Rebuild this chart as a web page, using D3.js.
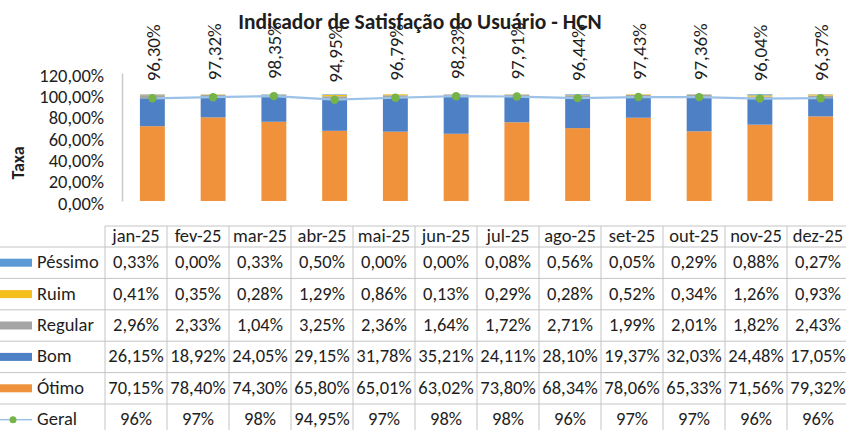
<!DOCTYPE html>
<html>
<head>
<meta charset="utf-8">
<script src="https://cdn.jsdelivr.net/npm/d3@7"></script>
<style>
  body { margin: 0; background: #fff; }
  svg { display: block; font-family: Carlito, Calibri, "Open Sans", sans-serif; }
</style>
</head>
<body>
<div class="chart-container"></div>
<script>
// values
const months = ['jan-25', 'fev-25', 'mar-25', 'abr-25', 'mai-25', 'jun-25', 'jul-25', 'ago-25', 'set-25', 'out-25', 'nov-25', 'dez-25'];
const pessimo = [0.33, 0.00, 0.33, 0.50, 0.00, 0.00, 0.08, 0.56, 0.05, 0.29, 0.88, 0.27];
const ruim = [0.41, 0.35, 0.28, 1.29, 0.86, 0.13, 0.29, 0.28, 0.52, 0.34, 1.26, 0.93];
const regular = [2.96, 2.33, 1.04, 3.25, 2.36, 1.64, 1.72, 2.71, 1.99, 2.01, 1.82, 2.43];
const bom = [26.15, 18.92, 24.05, 29.15, 31.78, 35.21, 24.11, 28.10, 19.37, 32.03, 24.48, 17.05];
const otimo = [70.15, 78.40, 74.30, 65.80, 65.01, 63.02, 73.80, 68.34, 78.06, 65.33, 71.56, 79.32];
const geral = [96.30, 97.32, 98.35, 94.95, 96.79, 98.23, 97.91, 96.44, 97.43, 97.36, 96.04, 96.37];
const geralTable = ['96%', '97%', '98%', '94,95%', '97%', '98%', '98%', '96%', '97%', '97%', '96%', '96%'];
const yTicks = [0, 20, 40, 60, 80, 100, 120];

const width = 846;
const height = 430;

const colors = {
    'Péssimo': '#5b9bd5',
    'Ruim': '#f5c01c',
    'Regular': '#a5a5a5',
    'Bom': '#4d80c4',
    'Ótimo': '#f0913c'
};
const lineColor = '#9cc2e8';
const dotColor = '#76b348';
const textColor = '#1e1e1e';
const gridColor = '#c4c4c4';
const fontSize = 18.5;

const br = d3.formatLocale({ decimal: ',', thousands: '.', grouping: [3], currency: ['R$', ''] });
const pct2 = v => br.format('.2f')(v) + '%';

// stacked series, bottom to top
const seriesNames = ['Ótimo', 'Bom', 'Regular', 'Ruim', 'Péssimo'];
const seriesData = { 'Ótimo': otimo, 'Bom': bom, 'Regular': regular, 'Ruim': ruim, 'Péssimo': pessimo };
const rows = months.map((m, i) => {
    const r = { month: m };
    seriesNames.forEach(s => r[s] = seriesData[s][i]);
    return r;
});
const stack = d3.stack().keys(seriesNames)(rows);

const svg = d3.select('.chart-container').append('svg')
    .attr('width', width)
    .attr('height', height);

const x = d3.scaleBand()
    .domain(months)
    .range([122, 851])
    .paddingInner(0.59)
    .paddingOuter(0.295);

const y = d3.scaleLinear()
    .domain([0, 120])
    .range([201, 73]);

// y axis
const yAxis = svg.append('g')
    .attr('transform', 'translate(122,0)')
    .call(d3.axisLeft(y).tickValues(yTicks).tickSize(0).tickPadding(18).tickFormat(pct2));
yAxis.select('.domain').attr('stroke', '#c8c8c8').attr('stroke-width', 1.5);
yAxis.selectAll('text')
    .attr('font-size', fontSize)
    .attr('font-family', 'Carlito, Calibri, sans-serif')
    .attr('fill', textColor)
    .attr('dy', '0.45em');

svg.append('text')
    .attr('transform', 'translate(24,163) rotate(-90)')
    .attr('text-anchor', 'middle')
    .attr('font-size', 18)
    .attr('font-weight', 'bold')
    .attr('fill', textColor)
    .text('Taxa');

// bars
svg.append('g')
    .selectAll('g')
    .data(stack)
    .enter()
    .append('g')
    .attr('fill', d => colors[d.key])
    .selectAll('rect')
    .data(d => d)
    .enter()
    .append('rect')
    .attr('x', d => x(d.data.month))
    .attr('y', d => y(d[1]))
    .attr('width', x.bandwidth())
    .attr('height', d => y(d[0]) - y(d[1]));

// geral line
const cx = m => x(m) + x.bandwidth() / 2;
svg.append('path')
    .datum(geral)
    .attr('fill', 'none')
    .attr('stroke', lineColor)
    .attr('stroke-width', 2.2)
    .attr('d', d3.line().x((d, i) => cx(months[i])).y(d => y(d)));

svg.append('g')
    .selectAll('circle')
    .data(geral)
    .enter()
    .append('circle')
    .attr('cx', (d, i) => cx(months[i]))
    .attr('cy', d => y(d))
    .attr('r', 4.2)
    .attr('fill', dotColor);

// rotated data labels
svg.append('g')
    .selectAll('text')
    .data(geral)
    .enter()
    .append('text')
    .attr('transform', (d, i) => `translate(${cx(months[i]) + 3},${y(d) - 17}) rotate(-90)`)
    .attr('dominant-baseline', 'middle')
    .attr('font-size', 19)
    .attr('fill', textColor)
    .text(d => pct2(d));

// title
svg.append('text')
    .attr('x', 420)
    .attr('y', 29)
    .attr('text-anchor', 'middle')
    .attr('font-size', 21.5)
    .attr('font-weight', 'bold')
    .attr('fill', textColor)
    .text('Indicador de Satisfação do Usuário - HCN');

// data table
const col = d3.scaleBand().domain(months).range([105, 849]);
const headerTop = 226;
const headerBottom = 247;
const rowH = 31.4;
const tableRows = [
    { name: 'Péssimo', values: pessimo.map(pct2), type: 'bar' },
    { name: 'Ruim', values: ruim.map(pct2), type: 'bar' },
    { name: 'Regular', values: regular.map(pct2), type: 'bar' },
    { name: 'Bom', values: bom.map(pct2), type: 'bar' },
    { name: 'Ótimo', values: otimo.map(pct2), type: 'bar' },
    { name: 'Geral', values: geralTable, type: 'line' }
];
const rowTop = i => headerBottom + i * rowH;
const tableBottom = rowTop(tableRows.length);

const table = svg.append('g').attr('class', 'table');

// grid lines
table.append('line')
    .attr('x1', 105).attr('x2', width)
    .attr('y1', headerTop).attr('y2', headerTop)
    .attr('stroke', gridColor);
table.selectAll('.hline')
    .data(d3.range(tableRows.length + 1))
    .enter()
    .append('line')
    .attr('class', 'hline')
    .attr('x1', 0).attr('x2', width)
    .attr('y1', i => rowTop(i)).attr('y2', i => rowTop(i))
    .attr('stroke', gridColor);
table.selectAll('.vline')
    .data(months)
    .enter()
    .append('line')
    .attr('class', 'vline')
    .attr('x1', m => col(m)).attr('x2', m => col(m))
    .attr('y1', headerTop).attr('y2', tableBottom)
    .attr('stroke', gridColor);

// header
table.selectAll('.head')
    .data(months)
    .enter()
    .append('text')
    .attr('class', 'head')
    .attr('x', m => col(m) + col.bandwidth() / 2)
    .attr('y', (headerTop + headerBottom) / 2 + 1)
    .attr('text-anchor', 'middle')
    .attr('dominant-baseline', 'middle')
    .attr('font-size', fontSize)
    .attr('fill', textColor)
    .text(m => m);

const rowG = table.selectAll('.row')
    .data(tableRows)
    .enter()
    .append('g')
    .attr('class', 'row')
    .attr('transform', (d, i) => `translate(0,${rowTop(i) + rowH / 2})`);

// legend keys
rowG.filter(d => d.type === 'bar')
    .append('rect')
    .attr('x', 0)
    .attr('y', -4)
    .attr('width', 32)
    .attr('height', 8)
    .attr('fill', d => colors[d.name]);
const lineKey = rowG.filter(d => d.type === 'line');
lineKey.append('line')
    .attr('x1', 0).attr('x2', 32)
    .attr('y1', 0).attr('y2', 0)
    .attr('stroke', lineColor)
    .attr('stroke-width', 1.5);
lineKey.append('circle')
    .attr('cx', 13).attr('cy', 0).attr('r', 3.5)
    .attr('fill', dotColor);

rowG.append('text')
    .attr('x', 37)
    .attr('y', 1)
    .attr('dominant-baseline', 'middle')
    .attr('font-size', fontSize)
    .attr('fill', textColor)
    .text(d => d.name);

rowG.selectAll('.cell')
    .data(d => d.values)
    .enter()
    .append('text')
    .attr('class', 'cell')
    .attr('x', (v, i) => col(months[i]) + col.bandwidth() / 2)
    .attr('y', 1)
    .attr('text-anchor', 'middle')
    .attr('dominant-baseline', 'middle')
    .attr('font-size', fontSize)
    .attr('fill', textColor)
    .text(v => v);
</script>
</body>
</html>
